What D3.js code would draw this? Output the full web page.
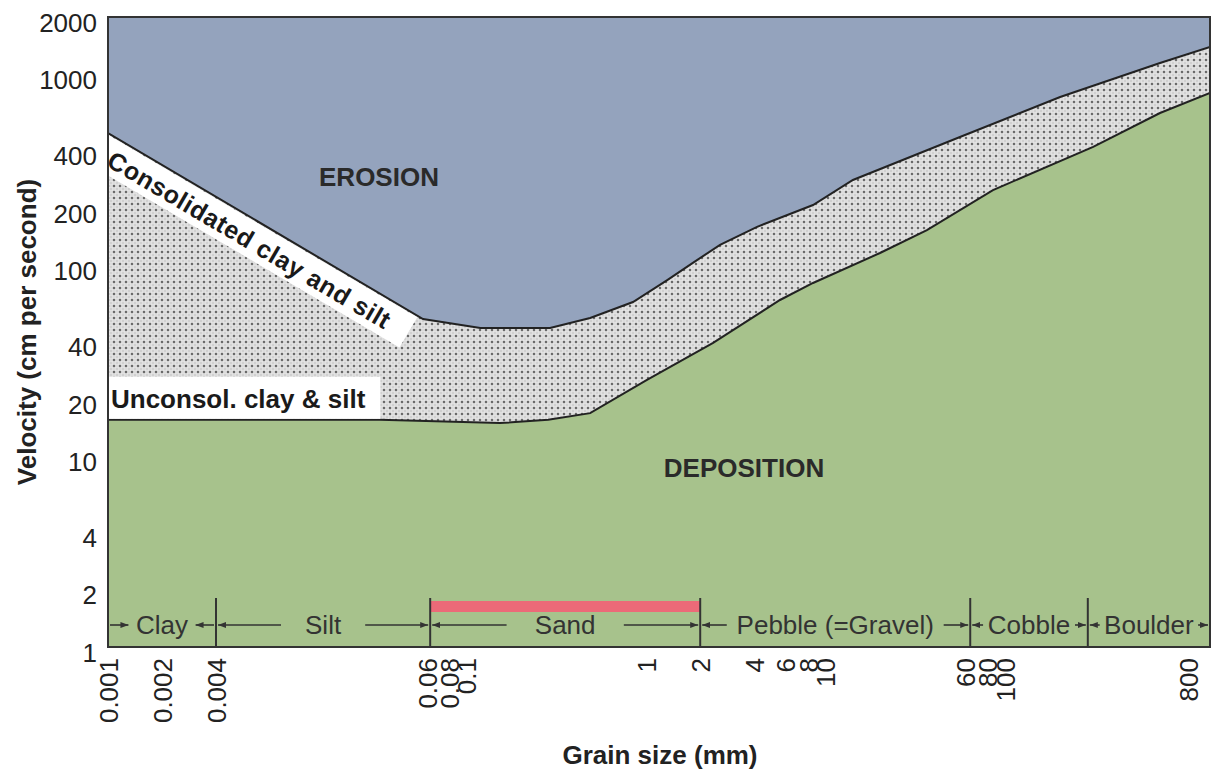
<!DOCTYPE html>
<html>
<head>
<meta charset="utf-8">
<script src="https://cdn.jsdelivr.net/npm/d3@7"></script>
<style>
  body { margin: 0; background: #fff; }
  text { font-family: "Liberation Sans", Arial, sans-serif; }
</style>
</head>
<body>
<div id="chart"></div>
<script>
// Hjulström-type diagram: grain size (mm) vs flow velocity (cm/s)

// upper boundary (erosion begins)
var erosionX = [0.001, 0.057, 0.119, 0.291, 0.487, 0.844, 1.31, 1.82, 2.58, 4.15, 8.51, 14.2, 56.1, 187, 581, 1025];
var erosionY = [493, 52.3, 46.9, 46.9, 53, 64.2, 83.7, 103, 128, 159, 207, 280, 470, 762, 1149, 1393];
// lower boundary (deposition)
var depositX = [0.001, 0.0328, 0.153, 0.284, 0.487, 1.01, 2.36, 5.57, 8.51, 20.1, 36.7, 85.7, 272, 581, 1025];
var depositY = [15.5, 15.5, 14.9, 15.5, 16.8, 25.1, 39.2, 65.8, 80.8, 116, 153, 248, 417, 628, 800];

var xTicks = [0.001, 0.002, 0.004, 0.06, 0.08, 0.1, 1, 2, 4, 6, 8, 10, 60, 80, 100, 800];
var yTicks = [1, 2, 4, 10, 20, 40, 100, 200, 400, 1000, 2000];

var classNames = ["Clay", "Silt", "Sand", "Pebble (=Gravel)", "Cobble", "Boulder"];
var classEdges = [0.001, 0.004, 0.0625, 2, 64, 256, 1025];
var sandRange = [0.0625, 2];

var width = 1221, height = 773;
var margin = {top: 17, left: 108, bottom: 126, right: 11};
var x0 = margin.left, x1 = width - margin.right;
var yTop = margin.top, yBot = height - margin.bottom;

// piecewise log scale, the right end of the original axis is a bit stretched
var x = d3.scaleLog().domain([0.001, 100, 1025]).range([x0, 1005, x1]);
var y = d3.scaleLog().domain([1, 2000]).range([yBot, yTop]);

var svg = d3.select("#chart").append("svg")
    .attr("width", width)
    .attr("height", height);

var defs = svg.append("defs");
defs.append("clipPath").attr("id", "plotclip")
  .append("rect").attr("x", x0).attr("y", yTop).attr("width", x1 - x0).attr("height", yBot - yTop);

var pat = defs.append("pattern").attr("id", "hatch")
    .attr("width", 6).attr("height", 6).attr("patternUnits", "userSpaceOnUse");
pat.append("rect").attr("width", 6).attr("height", 6).attr("fill", "#d0d0d0");
pat.append("circle").attr("cx", 3).attr("cy", 3).attr("r", 2.1)
    .attr("fill", "none").attr("stroke", "#ededed").attr("stroke-width", 1);
[[0, 0], [6, 0], [0, 6], [6, 6]].forEach(function(c) {
  pat.append("circle").attr("cx", c[0]).attr("cy", c[1]).attr("r", 0.9).attr("fill", "#3a3a3a");
});

defs.append("marker").attr("id", "arr")
    .attr("viewBox", "0 0 8 6").attr("refX", 8).attr("refY", 3)
    .attr("markerWidth", 8).attr("markerHeight", 6)
    .attr("markerUnits", "userSpaceOnUse").attr("orient", "auto")
  .append("path").attr("d", "M0,0L8,3L0,6Z").attr("fill", "#333");

var erosion = erosionX.map(function(d, i) { return [d, erosionY[i]]; });
var deposit = depositX.map(function(d, i) { return [d, depositY[i]]; });

var plot = svg.append("g").attr("clip-path", "url(#plotclip)");

// transport zone (hatched) fills everything, erosion and deposition drawn over it
plot.append("rect").attr("x", x0).attr("y", yTop)
    .attr("width", x1 - x0).attr("height", yBot - yTop)
    .attr("fill", "url(#hatch)");

plot.append("path").datum(erosion)
    .attr("fill", "#94a3bd")
    .attr("d", d3.area().x(function(d) { return x(d[0]); }).y0(yTop).y1(function(d) { return y(d[1]); }));

plot.append("path").datum(deposit)
    .attr("fill", "#a7c28c")
    .attr("d", d3.area().x(function(d) { return x(d[0]); }).y0(yBot).y1(function(d) { return y(d[1]); }));

var line = d3.line().x(function(d) { return x(d[0]); }).y(function(d) { return y(d[1]); });
plot.append("path").datum(erosion).attr("fill", "none").attr("stroke", "#222").attr("stroke-width", 2).attr("d", line);
plot.append("path").datum(deposit).attr("fill", "none").attr("stroke", "#222").attr("stroke-width", 2).attr("d", line);

// white band along the consolidated clay line
var p0 = [x(erosion[0][0]), y(erosion[0][1])];
var p1 = [x(erosion[1][0]), y(erosion[1][1])];
var ang = Math.atan2(p1[1] - p0[1], p1[0] - p0[0]) * 180 / Math.PI;
var band = plot.append("g").attr("transform", "translate(" + p0[0] + "," + p0[1] + ") rotate(" + ang + ")");
band.append("rect").attr("x", -40).attr("y", 1.5).attr("width", 400).attr("height", 35).attr("fill", "#fff");
band.append("text").attr("x", 14).attr("y", 20).attr("dominant-baseline", "central")
    .attr("font-size", 25).attr("font-weight", "bold").attr("fill", "#1a1a1a")
    .attr("letter-spacing", 0.6)
    .text("Consolidated clay and silt");

// white box for unconsolidated clay & silt
var by = y(deposit[0][1]);
var ub = plot.append("g");
var ut = ub.append("text").attr("x", x0 + 3).attr("y", by - 21).attr("dominant-baseline", "central")
    .attr("font-size", 26).attr("font-weight", "bold").attr("fill", "#1a1a1a")
    .text("Unconsol. clay & silt");
var uw = ut.node().getComputedTextLength();
ub.insert("rect", "text").attr("x", x0).attr("y", by - 43).attr("width", uw + 18).attr("height", 42).attr("fill", "#fff");

// region labels
plot.append("text").attr("x", 379).attr("y", 177).attr("text-anchor", "middle").attr("dominant-baseline", "central")
    .attr("font-size", 26).attr("font-weight", "bold").attr("fill", "#2a2a2a").text("EROSION");
plot.append("text").attr("x", 744).attr("y", 468).attr("text-anchor", "middle").attr("dominant-baseline", "central")
    .attr("font-size", 26).attr("font-weight", "bold").attr("fill", "#2a2a2a").text("DEPOSITION");

// grain size classes along the bottom
var rowY = 625;
plot.append("rect").attr("x", x(sandRange[0])).attr("y", 601)
    .attr("width", x(sandRange[1]) - x(sandRange[0])).attr("height", 11).attr("fill", "#ec6a78");

classEdges.slice(1, -1).forEach(function(e) {
  plot.append("line").attr("x1", x(e)).attr("x2", x(e)).attr("y1", 598).attr("y2", yBot)
      .attr("stroke", "#333").attr("stroke-width", 2);
});

classNames.forEach(function(name, i) {
  var lo = x(classEdges[i]), hi = x(classEdges[i + 1]);
  var cx = (lo + hi) / 2;
  var t = plot.append("text").attr("x", cx).attr("y", rowY).attr("text-anchor", "middle")
      .attr("dominant-baseline", "central").attr("font-size", 26).attr("fill", "#333").text(name);
  var tw = t.node().getComputedTextLength();
  var side = (hi - lo - tw) / 2;
  var gap = side * 0.27;
  var tl = cx - tw / 2 - gap, tr = cx + tw / 2 + gap;
  var inward = i === 0;
  [[tl, lo + 2], [tr, hi - 2]].forEach(function(s) {
    var a = inward ? s[1] : s[0], b = inward ? s[0] : s[1];
    plot.append("line").attr("x1", a).attr("x2", b).attr("y1", rowY).attr("y2", rowY)
        .attr("stroke", "#333").attr("stroke-width", 1.6).attr("marker-end", "url(#arr)");
  });
});

// frame
svg.append("rect").attr("x", x0).attr("y", yTop).attr("width", x1 - x0).attr("height", yBot - yTop)
    .attr("fill", "none").attr("stroke", "#333").attr("stroke-width", 2);

// axes
var yAxis = svg.append("g").attr("transform", "translate(" + x0 + ",0)")
    .call(d3.axisLeft(y).tickValues(yTicks).tickSize(0).tickPadding(11).tickFormat(function(d) { return String(d); }));
yAxis.select(".domain").remove();
yAxis.selectAll("text").attr("font-size", 26).attr("font-family", "Liberation Sans, Arial, sans-serif")
    .attr("fill", "#222").attr("dy", "0.55em");

var xAxis = svg.append("g").attr("transform", "translate(0," + yBot + ")")
    .call(d3.axisBottom(x).tickValues(xTicks).tickSize(0).tickFormat(function(d) { return String(d); }));
xAxis.select(".domain").remove();
xAxis.selectAll("text").attr("font-size", 26).attr("font-family", "Liberation Sans, Arial, sans-serif")
    .attr("fill", "#222")
    .attr("transform", "rotate(-90)").attr("text-anchor", "end")
    .attr("x", -11).attr("y", 0).attr("dy", "0.35em");

svg.append("text").attr("transform", "translate(27,332) rotate(-90)")
    .attr("text-anchor", "middle").attr("dominant-baseline", "central")
    .attr("font-size", 26).attr("font-weight", "bold").attr("fill", "#222")
    .text("Velocity (cm per second)");

svg.append("text").attr("x", 660).attr("y", 755).attr("text-anchor", "middle").attr("dominant-baseline", "central")
    .attr("font-size", 26).attr("font-weight", "bold").attr("fill", "#222")
    .text("Grain size (mm)");
</script>
</body>
</html>
